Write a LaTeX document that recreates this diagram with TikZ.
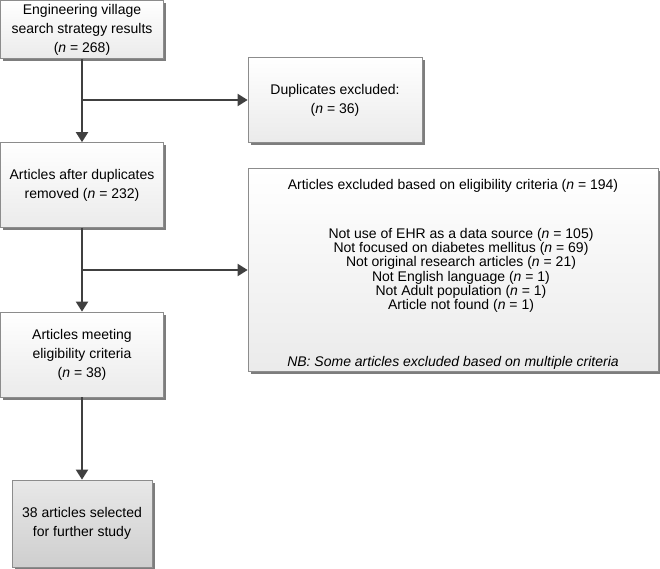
\documentclass[tikz,border=0pt]{standalone}
\usepackage{fontspec}
\setmainfont{Liberation Sans}
\usetikzlibrary{shadows,arrows.meta,calc}
\begin{document}
\begin{tikzpicture}[x=1pt,y=-1pt,
  box/.style={draw=black!45, line width=0.7pt, top color=white, bottom color=black!8,
    drop shadow={shadow xshift=2.5pt, shadow yshift=-2.5pt, fill=black!60, opacity=0.85},
    align=center, inner sep=0pt, font=\fontsize{14}{19}\selectfont},
  finalbox/.style={box, top color=black!9, bottom color=black!19},
  arr/.style={draw=black!75, line width=2pt, -{Triangle[length=10pt,width=12pt]}}]
\useasboundingbox (0,0) rectangle (660,569);
\node[box, minimum width=163pt, minimum height=58pt] (b1) at (82,29.5)
  {Engineering village\\search strategy results\\(\textit{n} = 268)};
\node[box, minimum width=174pt, minimum height=85pt] (dup) at (335,100)
  {Duplicates excluded:\\(\textit{n} = 36)};
\node[box, minimum width=163pt, minimum height=85pt] (b2) at (82,185)
  {Articles after duplicates\\removed (\textit{n} = 232)};
\node[box, minimum width=410pt, minimum height=203pt, font=\fontsize{14}{14.3}\selectfont] (excl) at (453,270)
  {\rule{0pt}{19pt}Articles excluded based on eligibility criteria (\textit{n} = 194)\\[34.5pt]
   \hspace*{16pt}Not use of EHR as a data source (\textit{n} = 105)\\
   \hspace*{16pt}Not focused on diabetes mellitus (\textit{n} = 69)\\
   \hspace*{16pt}Not original research articles (\textit{n} = 21)\\
   \hspace*{16pt}Not English language (\textit{n} = 1)\\
   \hspace*{16pt}Not Adult population (\textit{n} = 1)\\
   \hspace*{16pt}Article not found (\textit{n} = 1)\\[42.5pt]
   \textit{NB: Some articles excluded based on multiple criteria}};
\node[box, minimum width=163pt, minimum height=85pt] (b3) at (82,354.5)
  {Articles meeting\\eligibility criteria\\(\textit{n} = 38)};
\node[finalbox, minimum width=140pt, minimum height=87pt] (b4) at (82,523.5)
  {38 articles selected\\for further study};
\coordinate (j1) at (b1.south |- dup.west);
\coordinate (j2) at (b2.south |- excl.west);
\draw[arr] (b1.south) -- (b2.north);
\draw[arr] (j1) -- (dup.west);
\draw[arr] (b2.south) -- (b3.north);
\draw[arr] (j2) -- (excl.west);
\draw[arr] (b3.south) -- (b4.north);
\end{tikzpicture}
\end{document}
